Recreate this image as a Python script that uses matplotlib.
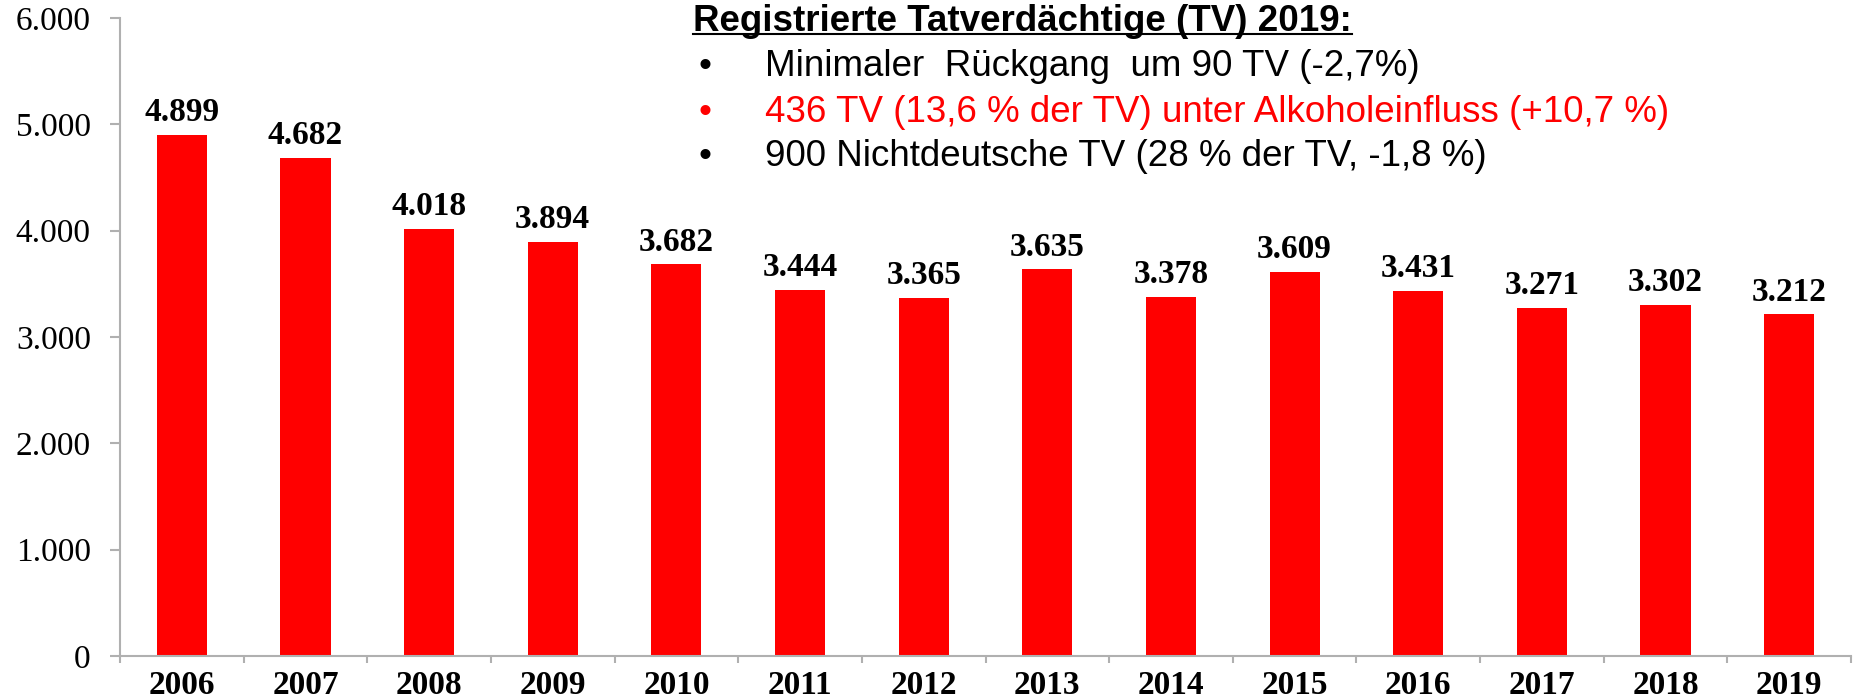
# -*- coding: utf-8 -*-

import matplotlib
matplotlib.use("Agg")
import matplotlib.pyplot as plt
from matplotlib.lines import Line2D

years = ["2006", "2007", "2008", "2009", "2010", "2011", "2012",
         "2013", "2014", "2015", "2016", "2017", "2018", "2019"]
werte = [4899, 4682, 4018, 3894, 3682, 3444, 3365,
         3635, 3378, 3609, 3431, 3271, 3302, 3212]
y_ticks = [0, 1000, 2000, 3000, 4000, 5000, 6000]
y_labels = ["0", "1.000", "2.000", "3.000", "4.000", "5.000", "6.000"]

titel = "Registrierte Tatverdächtige (TV) 2019:"
punkte = ["Minimaler  Rückgang  um 90 TV (-2,7%)",
          "436 TV (13,6 % der TV) unter Alkoholeinfluss (+10,7 %)",
          "900 Nichtdeutsche TV (28 % der TV, -1,8 %)"]
punkt_farben = ["black", "#ff0000", "black"]


def fmt(v):
    return "{:,}".format(v).replace(",", ".")


W, H = 1861, 698
fig = plt.figure(figsize=(W / 100, H / 100), dpi=100)
ax = fig.add_axes([120 / W, (H - 656) / H, (1851 - 120) / W, (656 - 18) / H])

x = list(range(len(years)))
ax.bar(x, werte, width=0.405, color="#ff0000", zorder=2)

for xi, v in zip(x, werte):
    ax.annotate(fmt(v), (xi, v), xytext=(0, 10), textcoords="offset points",
                ha="center", va="baseline", fontsize=24, fontweight="bold",
                family="Liberation Serif")

ax.set_xlim(-0.5, len(years) - 0.5)
ax.set_ylim(0, 6000)

grau = "#b0b0b0"
for s in ["top", "right"]:
    ax.spines[s].set_visible(False)
for s in ["left", "bottom"]:
    ax.spines[s].set_color(grau)
    ax.spines[s].set_linewidth(1.5)

ax.set_yticks(y_ticks)
ax.set_yticklabels(y_labels, family="Liberation Serif", fontsize=24)
ax.tick_params(axis="y", length=7, width=1.5, color=grau, pad=14)

ax.set_xticks(x)
ax.set_xticklabels(years, family="Liberation Serif", fontsize=24, fontweight="bold")
ax.set_xticks([i - 0.5 for i in range(len(years) + 1)], minor=True)
ax.tick_params(axis="x", which="major", length=0, pad=10)
ax.tick_params(axis="x", which="minor", length=5, width=1.5, color=grau)

# Textblock oben rechts
t = fig.text(693 / W, (H - 31) / H, titel, fontsize=26.5, fontweight="bold",
             family="Liberation Sans", va="baseline", ha="left")
fig.canvas.draw()
bb = t.get_window_extent()
fig.add_artist(Line2D([bb.x0 / W, bb.x1 / W], [(H - 34) / H, (H - 34) / H],
                      color="black", linewidth=1.5, transform=fig.transFigure))

baselines = [76, 122, 166]
for txt, farbe, yb in zip(punkte, punkt_farben, baselines):
    fig.text(698 / W, (H - yb) / H, "•", fontsize=26.5, color=farbe,
             family="Liberation Sans", va="baseline", ha="left")
    fig.text(765 / W, (H - yb) / H, txt, fontsize=26.5, color=farbe,
             family="Liberation Sans", va="baseline", ha="left")

fig.savefig("out.png", dpi=100)
